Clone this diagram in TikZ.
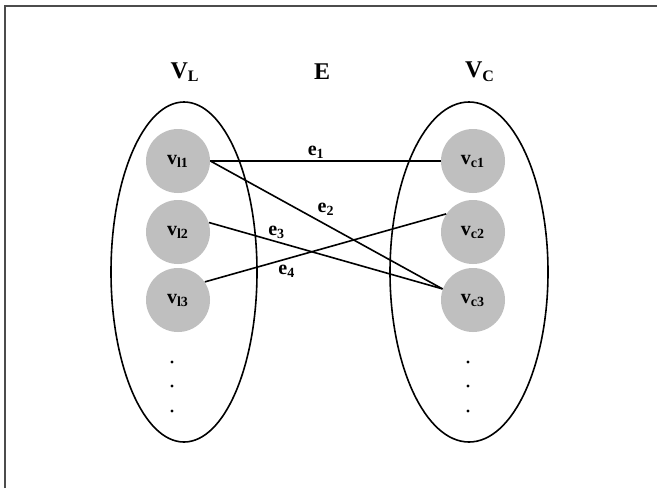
\documentclass[tikz,border=0pt]{standalone}
\usepackage{fontspec}
\setmainfont{Liberation Serif}
\usetikzlibrary{shapes.geometric}
\tikzset{
  set_ellipse/.style={ellipse, draw=black, line width=0.8pt, inner sep=0pt, minimum height=170pt},
  vertex/.style={circle, fill=gray!50, minimum size=32pt, inner sep=0pt, font=\bfseries\normalsize},
  edge_line/.style={-, line width=0.8pt, black},
  edge_label/.style={font=\bfseries\normalsize, inner sep=1pt},
  set_title/.style={font=\bfseries\large},
  frame_line/.style={line width=0.8pt, black!70}
}

\begin{document}
\begin{tikzpicture}[x=0.5pt, y=-0.5pt]

  % Page and frame
  \useasboundingbox[fill=white] (0,0) rectangle (657,488);
  \draw[frame_line] (5,488) -- (5,6) -- (657,6);

  % Titles
  \node[set_title] (tl) at (185,72) {V\textsubscript{L}};
  \node[set_title] (te) at (322,72) {E};
  \node[set_title] (tc) at (480,72) {V\textsubscript{C}};

  % The two vertex sets
  \node[set_ellipse, minimum width=73pt] (setl) at (184,272) {};
  \node[set_ellipse, minimum width=79pt] (setc) at (469,272) {};

  % Vertices
  \node[vertex] (vl1) at (178,161) {v\textsubscript{l1}};
  \node[vertex] (vl2) at (178,232) {v\textsubscript{l2}};
  \node[vertex] (vl3) at (178,300) {v\textsubscript{l3}};
  \node[vertex] (vc1) at (473,161) {v\textsubscript{c1}};
  \node[vertex] (vc2) at (473,232) {v\textsubscript{c2}};
  \node[vertex] (vc3) at (473,300) {v\textsubscript{c3}};

  % More vertices
  \foreach \y in {362,386,411} {
    \fill (172,\y) circle (0.8pt);
    \fill (468,\y) circle (0.8pt);
  }

  % Edges
  \draw[edge_line] (vl1.east) -- node[edge_label, pos=0.46, above] (e1) {e\textsubscript{1}} (vc1.west);
  \draw[edge_line] (vl1.east) -- node[edge_label, pos=0.45, above right] (e2) {e\textsubscript{2}} (vc3.160);
  \draw[edge_line] (vl2.17) -- node[edge_label, pos=0.29, above] (e3) {e\textsubscript{3}} (vc3.160);
  \draw[edge_line] (vl3.34) -- node[edge_label, pos=0.34, below=2pt] (e4) {e\textsubscript{4}} (vc2.146);

\end{tikzpicture}
\end{document}
